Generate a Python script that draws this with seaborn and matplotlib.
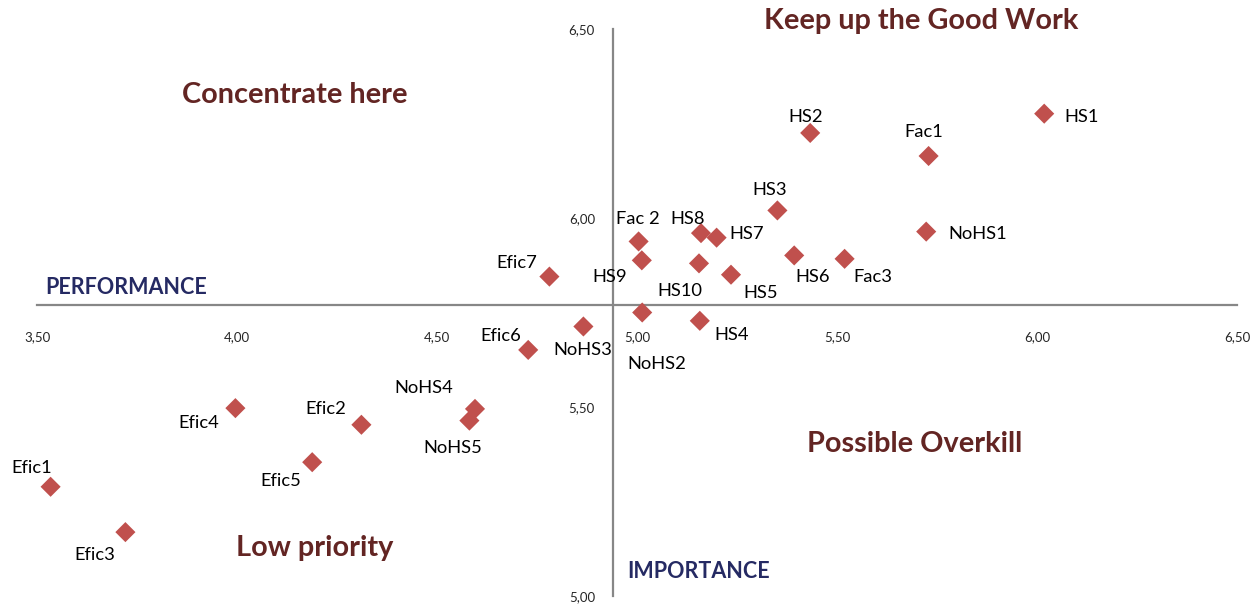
import matplotlib
matplotlib.use("Agg")
import matplotlib.pyplot as plt
import seaborn as sns
import pandas as pd

# importance-performance values
labels = ["HS1", "HS2", "Fac1", "HS3", "NoHS1", "Fac 2", "HS8", "HS7", "HS9", "HS10",
          "HS5", "HS6", "Fac3", "NoHS2", "HS4", "NoHS3", "Efic7", "Efic6", "NoHS4",
          "NoHS5", "Efic4", "Efic2", "Efic5", "Efic1", "Efic3"]
performance = [6.018, 5.433, 5.729, 5.351, 5.723, 5.004, 5.160, 5.199, 5.012, 5.155,
               5.235, 5.393, 5.519, 5.013, 5.157, 4.866, 4.781, 4.728, 4.595,
               4.581, 3.996, 4.311, 4.188, 3.534, 3.721]
importance = [6.276, 6.225, 6.164, 6.020, 5.964, 5.938, 5.960, 5.948, 5.888, 5.880,
              5.850, 5.901, 5.892, 5.750, 5.728, 5.713, 5.845, 5.651, 5.495,
              5.464, 5.497, 5.453, 5.354, 5.289, 5.169]

x_ticks = [3.5, 4.0, 4.5, 5.0, 5.5, 6.0, 6.5]
y_ticks = [5.0, 5.5, 6.0, 6.5]
cross_x, cross_y = 4.94, 5.77

# label offsets from point centre, in pixels (dx right, dy down)
label_offsets = {
    "HS1": (37, 3), "HS2": (-5, -16), "Fac1": (-5, -24), "HS3": (-8, -20),
    "NoHS1": (51, 2), "Fac 2": (-1, -22), "HS8": (-13, -14), "HS7": (30, -4),
    "HS9": (-32, 17), "HS10": (-19, 28), "HS5": (30, 18), "HS6": (18, 22),
    "Fac3": (28, 18), "NoHS2": (15, 52), "HS4": (32, 14), "NoHS3": (-1, 24),
    "Efic7": (-33, -14), "Efic6": (-27, -14), "NoHS4": (-51, -21),
    "NoHS5": (-17, 27), "Efic4": (-37, 15), "Efic2": (-36, -16),
    "Efic5": (-31, 19), "Efic1": (-19, -19), "Efic3": (-31, 23),
}

df = pd.DataFrame({"label": labels, "performance": performance, "importance": importance})

sns.set_style("white")
plt.rcParams["font.family"] = ["Lato", "DejaVu Sans"]

fig = plt.figure(figsize=(12.6, 6.06), dpi=100)
ax = fig.add_axes([37 / 1260, 10 / 606, 1200 / 1260, 567 / 606])

sns.scatterplot(data=df, x="performance", y="importance", marker="D", s=105,
                color="#C0504D", edgecolor="none", ax=ax, zorder=3)

for _, row in df.iterrows():
    dx, dy = label_offsets[row["label"]]
    ax.annotate(row["label"], (row["performance"], row["importance"]),
                xytext=(dx * 0.72, -dy * 0.72), textcoords="offset points",
                ha="center", va="center", fontsize=13.2, color="black")

ax.set_xlim(3.5, 6.5)
ax.set_ylim(5.0, 6.5)
ax.set_xticks(x_ticks)
ax.set_yticks(y_ticks)
ax.set_xticklabels([f"{v:.2f}".replace(".", ",") for v in x_ticks])
ax.set_yticklabels([f"{v:.2f}".replace(".", ",") for v in y_ticks])
ax.set_xlabel("")
ax.set_ylabel("")

axis_grey = "#878787"
for side in ["top", "right"]:
    ax.spines[side].set_visible(False)
ax.spines["left"].set_position(("data", cross_x))
ax.spines["bottom"].set_position(("data", cross_y))
for side in ["left", "bottom"]:
    ax.spines[side].set_color(axis_grey)
    ax.spines[side].set_linewidth(1.6)
    ax.spines[side].set_zorder(1)
ax.tick_params(axis="x", direction="out", length=3, width=1, color=axis_grey,
               pad=16, labelsize=9.5)
ax.tick_params(axis="y", direction="out", length=3, width=1, color=axis_grey,
               pad=10, labelsize=9.5)

quad_color = "#632523"
title_size = 20.8
ax.text(5.71, 6.521, "Keep up the Good Work", ha="center", va="center",
        fontsize=title_size, fontweight="bold", color=quad_color, clip_on=False)
ax.text(4.145, 6.325, "Concentrate here", ha="center", va="center",
        fontsize=title_size, fontweight="bold", color=quad_color)
ax.text(5.695, 5.402, "Possible Overkill", ha="center", va="center",
        fontsize=title_size, fontweight="bold", color=quad_color)
ax.text(4.195, 5.127, "Low priority", ha="center", va="center",
        fontsize=title_size, fontweight="bold", color=quad_color)

axis_blue = "#252A63"
ax.text(3.52, 5.815, "PERFORMANCE", ha="left", va="center",
        fontsize=15.5, fontweight="bold", color=axis_blue)
ax.text(4.975, 5.064, "IMPORTANCE", ha="left", va="center",
        fontsize=15.5, fontweight="bold", color=axis_blue)

fig.savefig("out.png", dpi=100)
